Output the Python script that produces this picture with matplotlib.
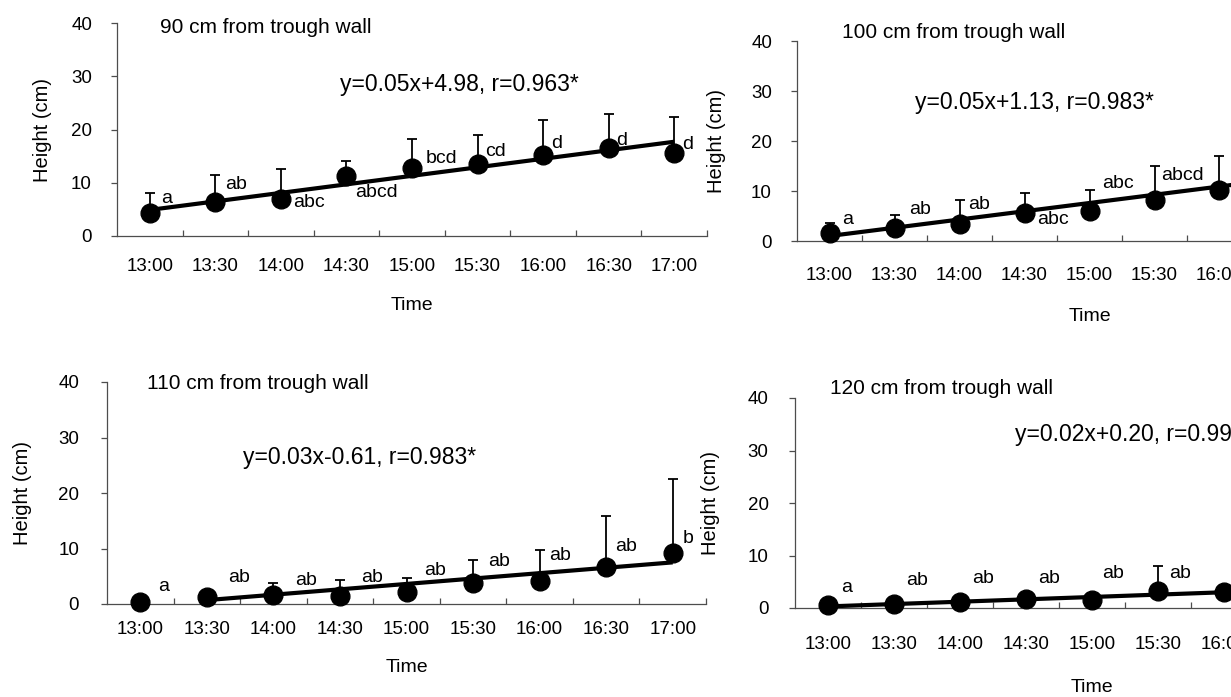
import numpy as np
import matplotlib
matplotlib.use("Agg")
import matplotlib.pyplot as plt

plt.rcParams['font.family'] = ['Liberation Sans', 'DejaVu Sans']

# data
times = ["13:00", "13:30", "14:00", "14:30", "15:00", "15:30", "16:00", "16:30", "17:00"]

titles = ["90 cm from trough wall", "100 cm from trough wall",
          "110 cm from trough wall", "120 cm from trough wall"]
equations = ["y=0.05x+4.98, r=0.963*", "y=0.05x+1.13, r=0.983*",
             "y=0.03x-0.61, r=0.983*", "y=0.02x+0.20, r=0.995*"]

mean_90 = [4.3, 6.4, 6.9, 11.3, 12.7, 13.6, 15.3, 16.6, 15.6]
sd_90 = [3.7, 5.0, 5.6, 2.8, 5.6, 5.3, 6.5, 6.4, 6.8]
mean_100 = [1.7, 2.7, 3.5, 5.7, 6.1, 8.2, 10.2, 11.5, 12.8]
sd_100 = [2.0, 2.6, 4.7, 4.0, 4.1, 6.9, 6.9, 7.5, 7.2]
mean_110 = [0.3, 1.3, 1.6, 1.5, 2.2, 3.7, 4.2, 6.7, 9.1]
sd_110 = [0.0, 0.0, 2.1, 2.8, 2.5, 4.2, 5.5, 9.2, 13.4]
mean_120 = [0.6, 0.8, 1.2, 1.7, 1.5, 3.2, 3.1, 3.5, 3.8]
sd_120 = [0.4, 0.4, 0.3, 0.3, 0.5, 4.8, 0.9, 1.5, 1.2]

# fitted line: (first index, value there, value at 17:00)
fit_90 = (0, 4.9, 17.7)
fit_100 = (0, 1.0, 14.2)
fit_110 = (1, 0.7, 7.5)
fit_120 = (0, 0.3, 3.9)

letters_90 = ["a", "ab", "abc", "abcd", "bcd", "cd", "d", "d", "d"]
letters_100 = ["a", "ab", "ab", "abc", "abc", "abcd", "bcd", "cd", "d"]
letters_110 = ["a", "ab", "ab", "ab", "ab", "ab", "ab", "ab", "b"]
letters_120 = ["a", "ab", "ab", "ab", "ab", "ab", "ab", "ab", "b"]

# where the letters sit (x shift from the point, height in cm)
lab_dx_90 = [0.17, 0.15, 0.18, 0.14, 0.21, 0.12, 0.12, 0.12, 0.12]
lab_y_90 = [7.1, 9.6, 6.2, 8.1, 14.6, 15.8, 17.4, 18.0, 17.1]
lab_dx_100 = [0.2, 0.23, 0.14, 0.2, 0.2, 0.1, 0.15, 0.15, 0.15]
lab_y_100 = [4.4, 6.4, 7.4, 4.4, 11.6, 13.0, 13.5, 15.0, 16.0]
lab_dx_110 = [0.27, 0.32, 0.32, 0.32, 0.26, 0.23, 0.14, 0.14, 0.15]
lab_y_110 = [3.2, 4.7, 4.3, 4.7, 6.0, 7.6, 8.8, 10.3, 11.8]
lab_dx_120 = [0.2, 0.18, 0.18, 0.18, 0.15, 0.17, 0.17, 0.17, 0.17]
lab_y_120 = [3.9, 5.2, 5.7, 5.7, 6.5, 6.5, 6.5, 7.0, 7.0]


def panel(rect, title, eq, means, sds, fit, letters, lab_dx, lab_y,
          title_pos, eq_pos, xpad, ypad, ylab_x, xlab_y):
    ax = fig.add_axes(rect)
    x = np.arange(len(times))

    i0, y0, y1 = fit
    ax.plot([x[i0], x[-1]], [y0, y1], color='black', lw=3.0, zorder=3,
            solid_capstyle='butt')
    ax.errorbar(x, means, yerr=[np.zeros(len(sds)), sds], fmt='none',
                ecolor='black', elinewidth=1.3, capsize=3.8, capthick=1.3,
                zorder=2)
    ax.plot(x, means, 'o', color='black', ms=13.5, zorder=4, clip_on=False)

    for i, s in enumerate(letters):
        ax.text(x[i] + lab_dx[i], lab_y[i], s, fontsize=14, ha='left',
                va='center')

    ax.text(title_pos[0], title_pos[1], title, transform=ax.transAxes,
            fontsize=15, ha='left', va='center')
    ax.text(eq_pos[0], eq_pos[1], eq, transform=ax.transAxes,
            fontsize=16.5, ha='left', va='center')

    ax.set_xlim(-0.5, len(times) - 0.5)
    ax.set_ylim(0, 40)
    ax.set_yticks([0, 10, 20, 30, 40])
    ax.set_xticks(x)
    ax.set_xticklabels(times)
    ax.set_xticks(np.arange(0.5, len(times), 1.0), minor=True)
    ax.tick_params(axis='x', which='major', length=0, pad=xpad, labelsize=13.5)
    ax.tick_params(axis='x', which='minor', direction='in', length=4,
                   width=0.9, color='0.3')
    ax.tick_params(axis='y', direction='out', length=4, width=0.9,
                   color='0.3', pad=ypad, labelsize=13.5)

    for side in ['top', 'right']:
        ax.spines[side].set_visible(False)
    for side in ['left', 'bottom']:
        ax.spines[side].set_color('0.3')
        ax.spines[side].set_linewidth(0.9)

    ax.set_ylabel("Height (cm)", fontsize=14.5)
    ax.yaxis.set_label_coords(ylab_x, 0.5)
    ax.yaxis.label.set_va('center')
    ax.set_xlabel("Time", fontsize=14)
    ax.xaxis.set_label_coords(0.5, xlab_y)
    ax.xaxis.label.set_va('center')
    return ax


W, H = 1231, 697
fig = plt.figure(figsize=(W / 100, H / 100), dpi=100)


def rect(left, top, width, bottom):
    return [left / W, (H - bottom) / H, width / W, (bottom - top) / H]


panel(rect(117, 23, 590, 236), titles[0], equations[0], mean_90, sd_90,
      fit_90, letters_90, lab_dx_90, lab_y_90,
      (0.073, 0.981), (0.378, 0.709), 16, 14, -75 / 590, -70 / 213)
panel(rect(797, 41, 585, 241), titles[1], equations[1], mean_100, sd_100,
      fit_100, letters_100, lab_dx_100, lab_y_100,
      (0.077, 1.045), (0.202, 0.69), 19, 14, -80 / 585, -75 / 200)
panel(rect(107, 382, 599, 604), titles[2], equations[2], mean_110, sd_110,
      fit_110, letters_110, lab_dx_110, lab_y_110,
      (0.067, 0.991), (0.227, 0.662), 12, 16, -85 / 599, -64 / 222)
panel(rect(795, 398, 594, 608), titles[3], equations[3], mean_120, sd_120,
      fit_120, letters_120, lab_dx_120, lab_y_120,
      (0.059, 1.043), (0.37, 0.824), 20, 15, -85 / 594, -80 / 210)

fig.savefig("out.png", dpi=100)
